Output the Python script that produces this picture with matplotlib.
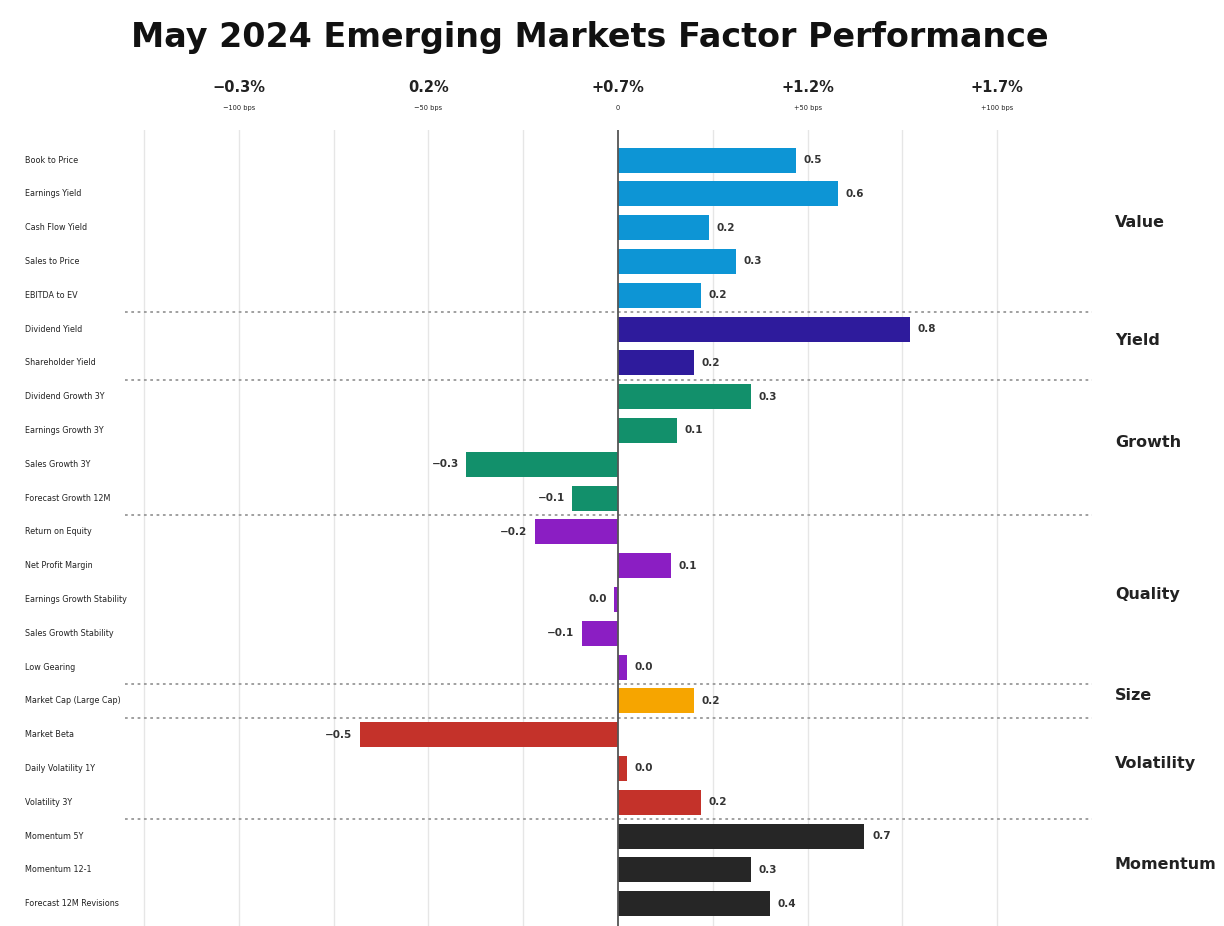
import matplotlib
matplotlib.use("Agg")
import matplotlib.pyplot as plt
import matplotlib.transforms as mtransforms

# factor names, top to bottom
factors = [
    "Book to Price", "Earnings Yield", "Cash Flow Yield", "Sales to Price", "EBITDA to EV",
    "Dividend Yield", "Shareholder Yield",
    "Dividend Growth 3Y", "Earnings Growth 3Y", "Sales Growth 3Y", "Forecast Growth 12M",
    "Return on Equity", "Net Profit Margin", "Earnings Growth Stability", "Sales Growth Stability", "Low Gearing",
    "Market Cap (Large Cap)",
    "Market Beta", "Daily Volatility 1Y", "Volatility 3Y",
    "Momentum 5Y", "Momentum 12-1", "Forecast 12M Revisions",
]
# bar lengths in %
values = [
    0.47, 0.58, 0.24, 0.31, 0.22,
    0.77, 0.20,
    0.35, 0.155, -0.40, -0.12,
    -0.22, 0.14, -0.01, -0.095, 0.024,
    0.20,
    -0.68, 0.024, 0.22,
    0.65, 0.35, 0.40,
]
# labels as printed next to the bars
value_labels = [
    "0.5", "0.6", "0.2", "0.3", "0.2",
    "0.8", "0.2",
    "0.3", "0.1", "−0.3", "−0.1",
    "−0.2", "0.1", "0.0", "−0.1", "0.0",
    "0.2",
    "−0.5", "0.0", "0.2",
    "0.7", "0.3", "0.4",
]
groups = ["Value", "Yield", "Growth", "Quality", "Size", "Volatility", "Momentum"]
group_sizes = [5, 2, 4, 5, 1, 3, 3]
group_colors = ["#0d95d5", "#2e1b9c", "#12906b", "#8b1ec3", "#f6a500", "#c4322a", "#262626"]

tick_vals = [-1.0, -0.5, 0.0, 0.5, 1.0]
tick_top = ["−0.3%", "0.2%", "+0.7%", "+1.2%", "+1.7%"]
tick_bps = ["−100 bps", "−50 bps", "0", "+50 bps", "+100 bps"]
grid_vals = [-1.25, -1.0, -0.75, -0.5, -0.25, 0.25, 0.5, 0.75, 1.0]

fig = plt.figure(figsize=(12.24, 9.26), dpi=100)
ax = fig.add_axes([125 / 1224, 0.0, 967 / 1224, 1 - 130 / 926])
ax.set_xlim(-1.30, 1.25)
ax.set_ylim(22.66, -0.89)
ax.axis("off")

for g in grid_vals:
    ax.axvline(g, color="#e6e6e6", lw=1.0, zorder=0)
ax.axvline(0, color="#555555", lw=1.3, zorder=3)

colors = []
for c, n in zip(group_colors, group_sizes):
    colors += [c] * n

ypos = list(range(len(factors)))
ax.barh(ypos, values, height=0.74, color=colors, zorder=2)

for y, v, lab in zip(ypos, values, value_labels):
    if v >= 0:
        ax.text(v + 0.02, y, lab, ha="left", va="center", fontsize=7.5,
                fontweight="bold", color="#333333")
    else:
        ax.text(v - 0.02, y, lab, ha="right", va="center", fontsize=7.5,
                fontweight="bold", color="#333333")

# group separators and labels
start = 0
trans_fx = mtransforms.blended_transform_factory(fig.transFigure, ax.transData)
for name, n in zip(groups, group_sizes):
    center = start + (n - 1) / 2
    ax.text(1115 / 1224, center - 0.15, name, transform=trans_fx, ha="left", va="center",
            fontsize=11.5, fontweight="bold", color="#222222")
    start += n
    if start < len(factors):
        ax.axhline(start - 0.5, color="#999999", lw=1.3, ls=(0, (1.5, 2)), zorder=1)

for y, f in zip(ypos, factors):
    ax.text(25 / 1224, y, f, transform=trans_fx, ha="left", va="center",
            fontsize=5.8, color="#222222")

trans_xf = mtransforms.blended_transform_factory(ax.transData, fig.transFigure)
for v, t, b in zip(tick_vals, tick_top, tick_bps):
    ax.text(v, 1 - 88 / 926, t, transform=trans_xf, ha="center", va="center",
            fontsize=10.5, fontweight="bold", color="#222222")
    ax.text(v, 1 - 108 / 926, b, transform=trans_xf, ha="center", va="center",
            fontsize=4.8, color="#222222")

fig.text(590 / 1224, 1 - 38 / 926, "May 2024 Emerging Markets Factor Performance",
         ha="center", va="center", fontsize=24, fontweight="bold", color="#111111")

fig.savefig("out.png", dpi=100, facecolor="white")
